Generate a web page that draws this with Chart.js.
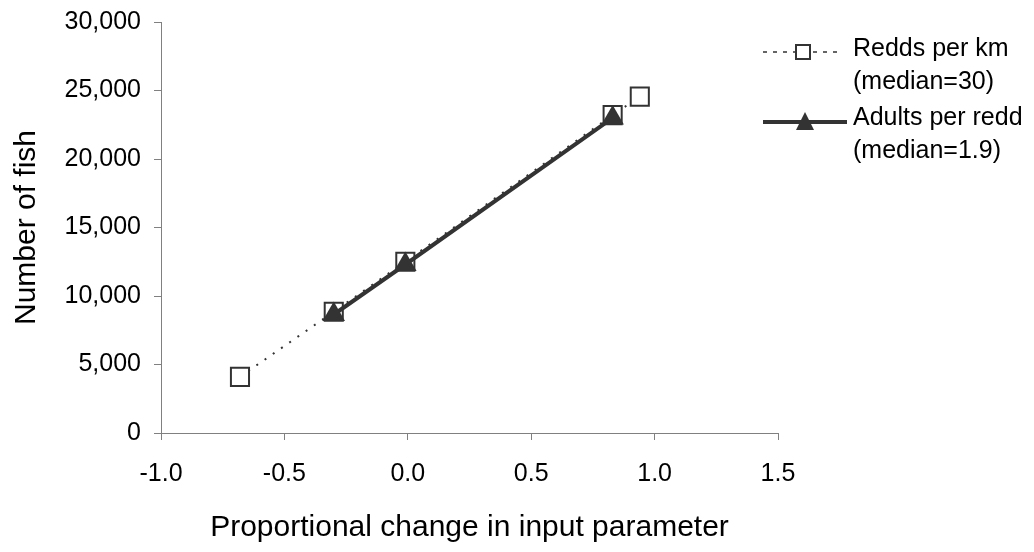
<!DOCTYPE html>
<html>
<head>
<meta charset="utf-8">
<script src="https://cdn.jsdelivr.net/npm/chart.js@4.4.1/dist/chart.umd.min.js"></script>
<style>
  html, body { margin: 0; padding: 0; background: #fff; }
  #wrap { width: 1034px; height: 552px; }
</style>
</head>
<body>
<div id="wrap"><canvas id="fishChart" width="1034" height="552"></canvas></div>
<script>
// values
const reddsX = [-0.68, -0.30, -0.01, 0.83, 0.94];
const reddsY = [4100, 8850, 12500, 23200, 24550];
const adultsX = [-0.30, -0.01, 0.83];
const adultsY = [8650, 12300, 23000];
const xTicks = [-1.0, -0.5, 0.0, 0.5, 1.0, 1.5];
const yTicks = [0, 5000, 10000, 15000, 20000, 25000, 30000];
const legendLabels = [["Redds per km", "(median=30)"], ["Adults per redd", "(median=1.9)"]];

const INK = "#333333";
const AXIS = "#808080";
const FONT = "'Liberation Sans', Arial, sans-serif";

function toPoints(xs, ys) {
    return xs.map(function (x, i) { return { x: x, y: ys[i] }; });
}

// legend drawn by hand so the labels can wrap onto two lines
const sideLegend = {
    id: "sideLegend",
    afterDraw: function (chart) {
        const c = chart.ctx;
        c.save();
        // redds: dashed line with open square
        c.strokeStyle = INK;
        c.lineWidth = 1.5;
        c.setLineDash([4, 6]);
        c.beginPath(); c.moveTo(763, 52); c.lineTo(842, 52); c.stroke();
        c.setLineDash([]);
        c.lineWidth = 2;
        c.fillStyle = "#fff";
        c.fillRect(796, 45, 14, 14);
        c.strokeRect(796, 45, 14, 14);
        // adults: solid line with filled triangle
        c.lineWidth = 4;
        c.beginPath(); c.moveTo(763, 122); c.lineTo(847, 122); c.stroke();
        c.fillStyle = INK;
        c.beginPath(); c.moveTo(805, 112); c.lineTo(814, 130); c.lineTo(796, 130); c.closePath(); c.fill();
        // text
        c.fillStyle = "#000";
        c.font = "25px " + FONT;
        c.textBaseline = "middle";
        c.textAlign = "left";
        c.fillText(legendLabels[0][0], 853, 49);
        c.fillText(legendLabels[0][1], 853, 82);
        c.fillText(legendLabels[1][0], 853, 118);
        c.fillText(legendLabels[1][1], 853, 151);
        c.restore();
    }
};

document.addEventListener("DOMContentLoaded", function () {
    const ctx = document.getElementById("fishChart");

    new Chart(ctx, {
        type: "scatter",
        data: {
            datasets: [{
                label: legendLabels[1].join(" "),
                data: toPoints(adultsX, adultsY),
                showLine: true,
                borderColor: INK,
                borderWidth: 4,
                pointStyle: "triangle",
                pointRadius: 13,
                pointHoverRadius: 13,
                pointBackgroundColor: INK,
                pointBorderColor: INK,
                pointBorderWidth: 0,
                order: 0
            }, {
                label: legendLabels[0].join(" "),
                data: toPoints(reddsX, reddsY),
                showLine: true,
                borderColor: INK,
                borderWidth: 2,
                borderDash: [2, 8],
                pointStyle: "rect",
                pointRadius: 12.8,
                pointHoverRadius: 12.8,
                pointBackgroundColor: "#fff",
                pointBorderColor: INK,
                pointBorderWidth: 2,
                order: 1
            }]
        },
        options: {
            responsive: false,
            animation: false,
            events: [],
            layout: { padding: { left: 0, right: 256, top: 22, bottom: 0 } },
            plugins: {
                legend: { display: false },
                tooltip: { enabled: false }
            },
            scales: {
                x: {
                    type: "linear",
                    min: xTicks[0],
                    max: xTicks[xTicks.length - 1],
                    afterBuildTicks: function (s) { s.ticks = xTicks.map(function (v) { return { value: v }; }); },
                    afterFit: function (s) { s.height = 552 - 433; },
                    ticks: {
                        color: "#000",
                        font: { family: FONT, size: 25 },
                        padding: 19,
                        maxRotation: 0,
                        callback: function (v) { return Number(v).toFixed(1); }
                    },
                    grid: { drawOnChartArea: false, drawTicks: true, tickLength: 7, color: AXIS },
                    border: { display: true, color: AXIS, width: 1 },
                    title: {
                        display: true,
                        text: "Proportional change in input parameter",
                        color: "#000",
                        font: { family: FONT, size: 30 },
                        padding: { top: 0, bottom: 6 }
                    }
                },
                y: {
                    type: "linear",
                    min: yTicks[0],
                    max: yTicks[yTicks.length - 1],
                    afterBuildTicks: function (s) { s.ticks = yTicks.map(function (v) { return { value: v }; }); },
                    afterFit: function (s) {
                        s.width = 161;
                        s.paddingTop = 0;
                        s.paddingBottom = 0;
                    },
                    ticks: {
                        color: "#000",
                        font: { family: FONT, size: 25 },
                        padding: 13,
                        callback: function (v) { return Number(v).toLocaleString("en-US"); }
                    },
                    grid: { drawOnChartArea: false, drawTicks: true, tickLength: 7, color: AXIS },
                    border: { display: true, color: AXIS, width: 1 },
                    title: {
                        display: true,
                        text: "Number of fish",
                        color: "#000",
                        font: { family: FONT, size: 30 },
                        padding: { top: 9, bottom: 0 }
                    }
                }
            }
        },
        plugins: [sideLegend]
    });
});
</script>
</body>
</html>
